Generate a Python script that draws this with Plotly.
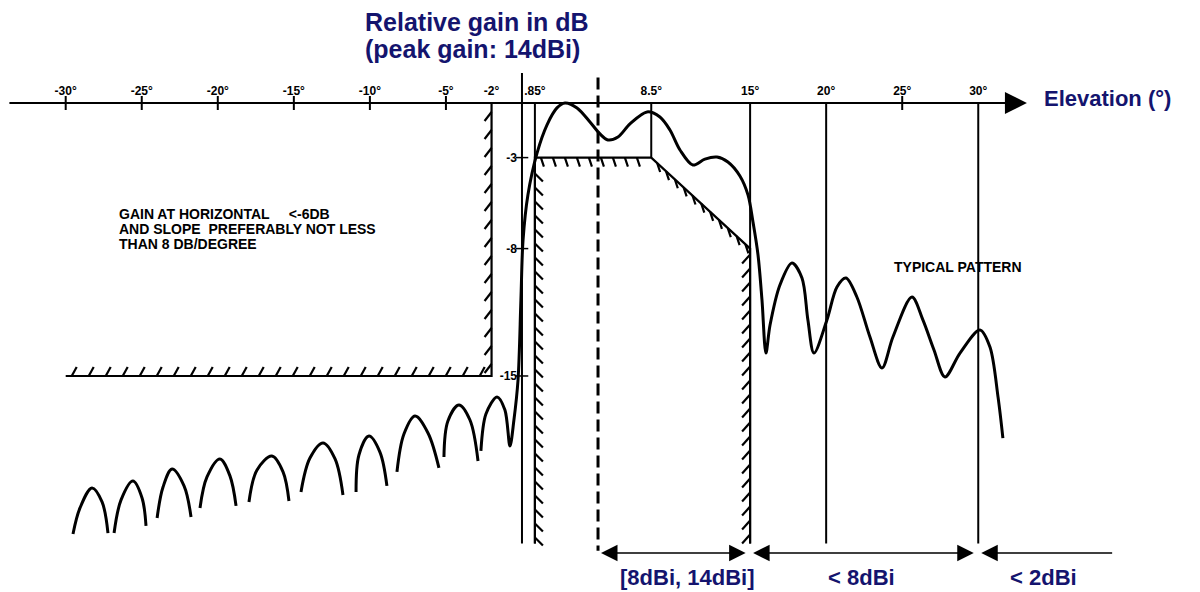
import numpy as np
import plotly.graph_objects as go

# ---------------- data ----------------
TICK_DEG = [-30, -25, -20, -15, -10, -5, -2, 0.85, 8.5, 15, 20, 25, 30]
TICK_TEXT = ["-30°", "-25°", "-20°", "-15°", "-10°", "-5°", "-2°", ".85°", "8.5°", "15°", "20°", "25°", "30°"]
PLAIN_TICK_DEG = [-30, -25, -20, -15, -10, -5, 25]
GAIN_TICKS = [-3, -8, -15]
GAIN_TICK_TEXT = ["-3", "-8", "-15"]

# side lobes below the horizon (separate arches)
SIDELOBE_DEG = [
    [-29.52, -29.06, -28.27, -27.61, -27.22],
    [-26.82, -26.36, -25.58, -24.98, -24.72],
    [-23.99, -23.60, -23.01, -22.22, -21.76],
    [-21.17, -20.71, -19.86, -19.20, -18.80],
    [-17.95, -17.42, -16.44, -15.71, -15.32],
    [-14.53, -13.94, -13.08, -12.29, -11.77],
    [-10.91, -10.72, -10.06, -9.34, -8.88],
    [-8.22, -7.76, -7.03, -6.18, -5.46],
    [-5.13, -4.87, -4.14, -3.42, -2.89],
]
SIDELOBE_DB = [
    [-23.68, -22.25, -21.15, -21.92, -23.63],
    [-23.63, -21.81, -20.77, -21.70, -23.24],
    [-22.80, -21.10, -20.11, -21.04, -22.75],
    [-22.25, -20.55, -19.56, -20.49, -22.14],
    [-21.92, -20.16, -19.40, -20.27, -21.87],
    [-21.37, -19.51, -18.68, -19.56, -21.54],
    [-21.37, -19.34, -18.30, -19.18, -21.04],
    [-20.27, -18.19, -17.20, -18.13, -20.05],
    [-19.45, -17.47, -16.59, -17.42, -19.67],
]

# typical pattern (last lobe below horizon, main beam, side lobes above)
PATTERN_DEG = [-2.70, -2.37, -1.64, -1.12, -0.79, -0.53, -0.26, -0.07, 0.07, 0.39,
               0.99, 1.64, 2.30, 2.83, 3.62, 4.47, 5.13, 5.65, 6.31, 7.10,
               8.22, 9.07, 9.73, 10.39, 11.24, 12.03, 12.82, 13.54, 14.33, 14.86,
               15.19, 15.52, 15.78, 16.04, 16.31, 16.96, 17.75, 18.41, 18.80, 19.20,
               20.05, 20.71, 21.30, 22.02, 22.88, 23.67, 24.39, 25.64, 26.36, 27.09,
               27.81, 28.80, 30.11, 30.77, 31.30, 31.62]
PATTERN_DB = [-19.12, -17.09, -16.15, -16.87, -18.85, -17.42, -15.22, -10.82, -7.53, -5.05,
              -2.75, -1.21, -0.27, 0.00, -0.27, -1.04, -1.70, -2.03, -1.87, -1.15,
              -0.49, -0.77, -1.48, -2.58, -3.41, -3.08, -2.97, -3.24, -4.01, -5.05,
              -6.54, -8.35, -10.82, -13.74, -12.20, -10.00, -8.79, -9.62, -11.92, -13.74,
              -11.92, -10.11, -9.62, -10.66, -12.86, -14.56, -12.86, -10.66, -11.92, -13.57,
              -15.05, -13.74, -12.47, -13.41, -16.15, -18.41]

# masks
MASK_LOW_DEG = [-30, -2, -2]
MASK_LOW_DB = [-15, -15, 0]
MASK_MAIN_DEG = [0.85, 0.85, 8.5, 15, 15]
MASK_MAIN_DB = [-24.2, -3, -3, -8, -24.2]

# reference verticals
AXIS_V_TOP_DB, BOTTOM_DB = 1.65, -24.2
REF_LINE_DEG = [0.85, 8.5, 15, 20, 30]
REF_LINE_BOTTOM_DB = [-24.2, -3, -24.2, -24.2, -24.2]
BEAM_CENTER_DEG = 5.0
BEAM_LINE_DB = [1.4, -24.6]

BAND_EDGES = [(5, 15), (15, 30), (30, 39.1)]
BAND_HEADS = ["end+start", "end+start", "end"]
BAND_LABELS = ["[8dBi, 14dBi]", "&lt; 8dBi", "&lt; 2dBi"]
BAND_LABEL_DEG = [10.85, 22.3, 34.3]

# ---------------- layout scale ----------------
W, H = 1200, 592
X_RANGE = [-34.32, 44.58]
Y_RANGE = [-26.87, 5.66]
KX = W / (X_RANGE[1] - X_RANGE[0])
KY = H / (Y_RANGE[1] - Y_RANGE[0])
NAVY = "#14146e"
FONT = "Liberation Sans, Arial, sans-serif"


def hatches(xs, ys, specs):
    hx, hy = [], []
    for i, (spacing, off, t0, t1) in enumerate(specs):
        X0, Y0 = xs[i] * KX, -ys[i] * KY
        X1, Y1 = xs[i + 1] * KX, -ys[i + 1] * KY
        L = np.hypot(X1 - X0, Y1 - Y0)
        ux, uy = (X1 - X0) / L, (Y1 - Y0) / L
        for t in np.arange(t0, L - t1, spacing):
            Xa, Ya = X0 + ux * t, Y0 + uy * t
            hx += [Xa / KX, (Xa + off[0]) / KX, None]
            hy += [-Ya / KY, -(Ya + off[1]) / KY, None]
    return hx, hy


fig = go.Figure()

# vertical axis and reference lines
vx, vy = [0, 0, None], [AXIS_V_TOP_DB, BOTTOM_DB, None]
for d, b in zip(REF_LINE_DEG, REF_LINE_BOTTOM_DB):
    vx += [d, d, None]
    vy += [0, b, None]
fig.add_trace(go.Scatter(x=vx, y=vy, mode="lines", line=dict(color="black", width=2),
                         hoverinfo="skip"))

# beam centre dashed line
fig.add_trace(go.Scatter(x=[BEAM_CENTER_DEG, BEAM_CENTER_DEG], y=BEAM_LINE_DB, mode="lines",
                         line=dict(color="black", width=3, dash="12px,6px"), hoverinfo="skip"))

# masks
fig.add_trace(go.Scatter(x=MASK_LOW_DEG, y=MASK_LOW_DB, mode="lines",
                         line=dict(color="black", width=2.2), hoverinfo="skip"))
fig.add_trace(go.Scatter(x=MASK_MAIN_DEG, y=MASK_MAIN_DB, mode="lines",
                         line=dict(color="black", width=2.2), hoverinfo="skip"))
h1x, h1y = hatches(MASK_LOW_DEG, MASK_LOW_DB,
                   [(17, (5, -9), 6, 4), (18, (-7, 9), 12, 4)])
h2x, h2y = hatches(MASK_MAIN_DEG, MASK_MAIN_DB,
                   [(14, (8, 8), 6, 6), (12, (3, 9), 6, 4), (12, (3, 9), 8, 4), (14, (-8, 9), 6, 4)])
fig.add_trace(go.Scatter(x=h1x + h2x, y=h1y + h2y, mode="lines",
                         line=dict(color="black", width=2.2), hoverinfo="skip"))

# side lobes
sx, sy = [], []
for xs_, ys_ in zip(SIDELOBE_DEG, SIDELOBE_DB):
    sx += xs_ + [None]
    sy += ys_ + [None]
fig.add_trace(go.Scatter(x=sx, y=sy, mode="lines", connectgaps=False,
                         line=dict(color="black", width=3, shape="spline", smoothing=1.0),
                         hoverinfo="skip"))

# typical pattern
fig.add_trace(go.Scatter(x=PATTERN_DEG, y=PATTERN_DB, mode="lines",
                         line=dict(color="black", width=3, shape="spline", smoothing=0.9),
                         hoverinfo="skip"))

# tick marks crossing the axes
fig.add_trace(go.Scatter(x=PLAIN_TICK_DEG, y=[0] * len(PLAIN_TICK_DEG), mode="markers",
                         marker=dict(symbol="line-ns", size=10, line=dict(color="black", width=2)),
                         hoverinfo="skip"))
fig.add_trace(go.Scatter(x=[0] * len(GAIN_TICKS), y=GAIN_TICKS, mode="markers",
                         marker=dict(symbol="line-ew", size=9, line=dict(color="black", width=1.5)),
                         hoverinfo="skip"))

annotations = []
# horizontal axis with arrow
annotations.append(dict(x=33.2, y=0, ax=-33.8, ay=0, xref="x", yref="y", axref="x", ayref="y",
                        text="", showarrow=True, arrowhead=2, arrowsize=2.0, arrowwidth=2.2,
                        arrowcolor="black"))
# bands at the bottom
gap = 3 / KX
for (a, b), side, lab, lx in zip(BAND_EDGES, BAND_HEADS, BAND_LABELS, BAND_LABEL_DEG):
    annotations.append(dict(x=a + gap, y=-24.73, ax=b - gap, ay=-24.73, xref="x", yref="y",
                            axref="x", ayref="y", text="", showarrow=True, arrowhead=2,
                            arrowsize=2.2, arrowwidth=1.5, arrowside=side, arrowcolor="black"))
    annotations.append(dict(x=lx, y=-26.1, xref="x", yref="y", text=lab, showarrow=False,
                            font=dict(family=FONT, size=22, color=NAVY, weight="bold")))

# titles
annotations.append(dict(x=363 / W, y=1 - 22 / H, xref="paper", yref="paper", xanchor="left",
                        yanchor="middle", text="Relative gain in dB", showarrow=False,
                        font=dict(family=FONT, size=25, color=NAVY, weight="bold")))
annotations.append(dict(x=363 / W, y=1 - 49 / H, xref="paper", yref="paper", xanchor="left",
                        yanchor="middle", text="(peak gain: 14dBi)", showarrow=False,
                        font=dict(family=FONT, size=25, color=NAVY, weight="bold")))
annotations.append(dict(x=1042 / W, y=1 - 98 / H, xref="paper", yref="paper", xanchor="left",
                        yanchor="middle", text="Elevation (°)", showarrow=False,
                        font=dict(family=FONT, size=22, color=NAVY, weight="bold")))

# notes
NOTE_LINES = ["GAIN AT HORIZONTAL \u00a0\u00a0\u00a0\u00a0&lt;-6DB",
              "AND SLOPE \u00a0PREFERABLY NOT LESS",
              "THAN 8 DB/DEGREE"]
for i, t in enumerate(NOTE_LINES):
    annotations.append(dict(x=117 / W, y=1 - (214 + 15 * i) / H, xref="paper", yref="paper",
                            xanchor="left", yanchor="middle", text=t, showarrow=False,
                            font=dict(family=FONT, size=14, color="black", weight="bold")))
annotations.append(dict(x=892 / W, y=1 - 267 / H, xref="paper", yref="paper", xanchor="left",
                        yanchor="middle", text="TYPICAL PATTERN", showarrow=False,
                        font=dict(family=FONT, size=14, color="black", weight="bold")))

fig.update_layout(
    width=W, height=H, margin=dict(l=0, r=0, t=0, b=0),
    paper_bgcolor="white", plot_bgcolor="white", showlegend=False, hovermode=False,
    annotations=annotations,
    xaxis=dict(range=X_RANGE, anchor="free", position=(H - 103) / H, side="top",
               tickvals=TICK_DEG, ticktext=TICK_TEXT, ticks="", showline=False,
               showgrid=False, zeroline=False, ticklabelstandoff=6,
               tickfont=dict(family=FONT, size=12, color="black", weight="bold")),
    yaxis=dict(range=Y_RANGE, anchor="free", position=522 / W, side="left",
               tickvals=GAIN_TICKS, ticktext=GAIN_TICK_TEXT, ticks="", showline=False,
               showgrid=False, zeroline=False, ticklabelstandoff=5,
               tickfont=dict(family=FONT, size=12, color="black", weight="bold")),
)

fig.write_html("out.html")
